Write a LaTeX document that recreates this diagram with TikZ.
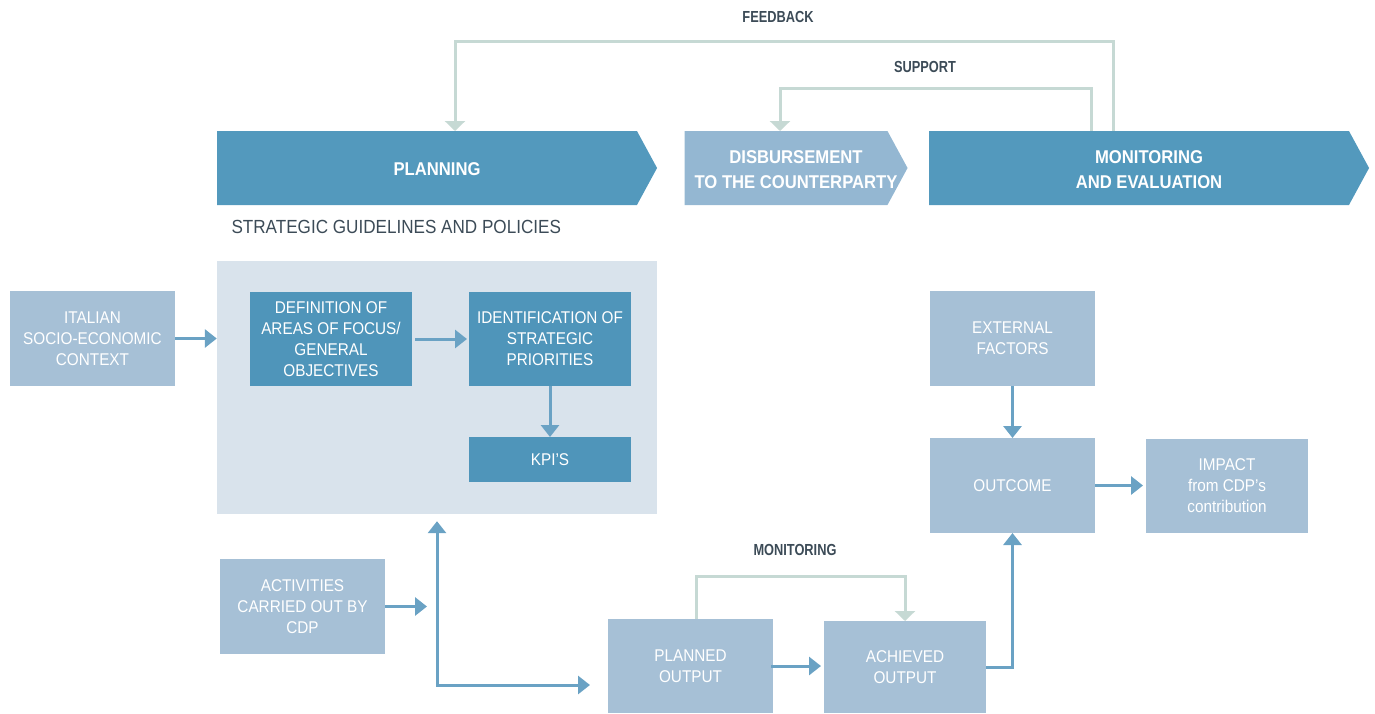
\documentclass[tikz,border=0pt]{standalone}
\usepackage{fontspec}
\setmainfont{Liberation Sans}[FakeStretch=0.9]
\newfontfamily\labelfont{Liberation Sans}[FakeStretch=0.8]
\usetikzlibrary{arrows.meta,shapes.symbols,calc}

\definecolor{chevblue}{HTML}{5399BD}
\definecolor{disbblue}{HTML}{94B7D2}
\definecolor{darkbox}{HTML}{4F95BA}
\definecolor{lightbox}{HTML}{A6C0D6}
\definecolor{backbox}{HTML}{D9E3EC}
\definecolor{arrowblue}{HTML}{6AA2C4}
\definecolor{fbgreen}{HTML}{C6D9D4}
\definecolor{labeltext}{HTML}{3C4B57}

\tikzset{
  tri/.tip={Triangle[width=18pt,length=12pt]},
  fbtri/.tip={Triangle[width=20pt,length=10pt]},
  box/.style={inner sep=0pt, outer sep=0pt, text=white, align=center,
              font=\fontsize{17}{21}\selectfont},
  chev/.style={shape=signal, signal to=east, signal pointer angle=123,
               inner sep=0pt, outer sep=0pt, minimum height=74pt, text=white,
               font=\bfseries\fontsize{18.5}{25}\selectfont},
  toplabel/.style={text=labeltext, font=\labelfont\bfseries\fontsize{16}{18}\selectfont},
  arr/.style={draw=arrowblue, line width=3pt, -tri},
  fb/.style={draw=fbgreen, line width=3pt, -fbtri}
}
% chevron text: centred on the whole arrow, tip included, and free to run into the tip
\newcommand{\chevtxt}[1]{\makebox[0pt]{\hspace*{20pt}\raisebox{-2.5pt}[\height][\depth]{\begin{tabular}{@{}c@{}}#1\end{tabular}}}}

\begin{document}
\begin{tikzpicture}[x=1pt,y=-1pt]
\useasboundingbox (0,0) rectangle (1375,713);

% the three phases
\node[chev, fill=chevblue, minimum width=440pt] (plan) at (427,168) {\chevtxt{PLANNING}};
\node[chev, fill=disbblue, minimum width=223pt] (disb) at (786,168) {\chevtxt{DISBURSEMENT\\TO THE COUNTERPARTY}};
\node[chev, fill=chevblue, minimum width=440pt] (mne) at (1139,168) {\chevtxt{MONITORING\\AND EVALUATION}};

\node[toplabel] (fblabel) at (778,17) {FEEDBACK};
\node[toplabel] (suplabel) at (925,67) {SUPPORT};
\node[toplabel] (monlabel) at (795,550) {MONITORING};

\node[anchor=west, text=labeltext, font=\fontsize{19}{23}\selectfont] (guide) at (228,227)
  {STRATEGIC GUIDELINES AND POLICIES};

% background of the planning block
\node[inner sep=0pt, fill=backbox, minimum width=440pt, minimum height=253pt] (strat) at (437,387.5) {};

% all the boxes: name/x/y/width/height/colour/text
\foreach \nm/\cx/\cy/\w/\h/\col/\txt in {
  ital/92.5/338.5/165/95/lightbox/{ITALIAN\\SOCIO-ECONOMIC\\CONTEXT},
  def/331/339/162/94/darkbox/{DEFINITION OF\\AREAS OF FOCUS/\\GENERAL\\OBJECTIVES},
  iden/550/339/162/94/darkbox/{IDENTIFICATION OF\\STRATEGIC\\PRIORITIES},
  kpi/550/459.5/162/45/darkbox/{KPI'S},
  act/302.5/606.5/165/95/lightbox/{ACTIVITIES\\CARRIED OUT BY\\CDP},
  pout/690.5/666/165/94/lightbox/{PLANNED\\OUTPUT},
  ach/905/667/162/92/lightbox/{ACHIEVED\\OUTPUT},
  ext/1012.5/338.5/165/95/lightbox/{EXTERNAL\\FACTORS},
  outc/1012.5/485.5/165/95/lightbox/{OUTCOME},
  imp/1227/486/162/94/lightbox/{IMPACT\\from CDP's\\contribution}}
{
  \node[box, fill=\col, minimum width=\w pt, minimum height=\h pt] (\nm) at (\cx,\cy) {\txt};
}

\coordinate (hub) at (437,685); % corner below the planning block

% feedback and support loops
\draw[fb] ([xshift=-26pt]mne.north) -- ++(0,-90) -| ([xshift=28pt]plan.north);
\draw[fb] ([xshift=-48pt]mne.north) -- ++(0,-43) -| ([xshift=-6pt]disb.north);
\draw[fb] ([xshift=5.5pt]pout.north) -- ++(0,-43) -| (ach.north);

% main flow
\draw[arr] (ital.east) -- (ital.east -| strat.west);
\draw[arr] ([xshift=3pt]def.east) -- ([xshift=-2pt]iden.west);
\draw[arr] (iden.south) -- (kpi.north);
\draw[arr] (act.east) -- ([xshift=-10pt]act.east -| hub);
\draw[draw=arrowblue, line width=3pt, tri-tri] ([yshift=-7pt]strat.south) -- (hub) -- ([xshift=-18pt]hub -| pout.west);
\draw[arr] ([xshift=-2pt]pout.east) -- ([xshift=-3pt]ach.west |- pout.east);
\draw[arr] (ach.east) -| (outc.south);
\draw[arr] (ext.south) -- (outc.north);
\draw[arr] (outc.east) -- ([xshift=-3pt]imp.west |- outc.east);
\end{tikzpicture}
\end{document}
